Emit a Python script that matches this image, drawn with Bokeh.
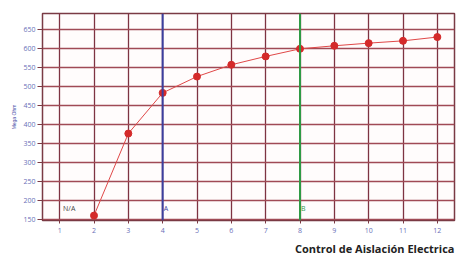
from bokeh.plotting import figure
from bokeh.models import Span, Label, FixedTicker, ColumnDataSource, Title
from bokeh.embed import file_html
from bokeh.resources import INLINE

# Data
x_vals = [2, 3, 4, 5, 6, 7, 8, 9, 10, 11, 12]
y_vals = [160, 376, 483, 526, 557, 579, 599, 607, 614, 620, 630]
x_ticks = [1, 2, 3, 4, 5, 6, 7, 8, 9, 10, 11, 12]
y_ticks = [150, 200, 250, 300, 350, 400, 450, 500, 550, 600, 650]
marker_x = [4, 8]
marker_names = ["A", "B"]
marker_colors = ["#3b3f9e", "#2f9a45"]
na_label = "N/A"
y_title = "Mega Ohm"
chart_title = "Control de Aislación Electrica"

p = figure(width=458, height=258, x_range=(0.5, 12.5), y_range=(147, 692),
           output_backend="svg", toolbar_location=None,
           min_border_left=42, min_border_top=13, min_border_right=4, min_border_bottom=0)

p.background_fill_color = "#fffcfc"
p.border_fill_color = "white"
p.outline_line_color = "#7a3a44"
p.outline_line_width = 1.5

p.xgrid.ticker = FixedTicker(ticks=x_ticks)
p.ygrid.ticker = FixedTicker(ticks=y_ticks)
p.xgrid.grid_line_color = "#7e3342"
p.xgrid.grid_line_width = 1.3
p.ygrid.grid_line_color = "#a04a55"
p.ygrid.grid_line_width = 1.3

for ax, ticks in ((p.xaxis, x_ticks), (p.yaxis, y_ticks)):
    ax.ticker = FixedTicker(ticks=ticks)
    ax.axis_line_color = "#7a3a44"
    ax.major_tick_line_color = "#7a3a44"
    ax.minor_tick_line_color = None
    ax.major_tick_in = 0
    ax.major_label_text_color = "#6a6fb8"
    ax.major_label_text_font = "Open Sans"
    ax.major_label_text_font_size = "7px"

p.xaxis.major_tick_out = 3
p.xaxis.major_label_standoff = 4
p.yaxis.major_tick_out = 5
p.yaxis.major_label_standoff = 2
p.yaxis.axis_label = y_title
p.yaxis.axis_label_text_font_size = "5px"
p.yaxis.axis_label_text_font_style = "normal"
p.yaxis.axis_label_text_color = "#4a4fa8"
p.yaxis.axis_label_standoff = 3

for mx, mname, mc in zip(marker_x, marker_names, marker_colors):
    p.add_layout(Span(location=mx, dimension="height", line_color=mc, line_width=2))
    p.add_layout(Label(x=mx, y=179, text=mname, x_offset=1, text_font_size="7px",
                       text_color=mc, text_baseline="middle", text_font="Open Sans"))

p.add_layout(Label(x=1.1, y=179, text=na_label, text_font_size="7px",
                   text_color="#444444", text_baseline="middle", text_font="Open Sans"))

src = ColumnDataSource(data=dict(x=x_vals, y=y_vals))
p.line("x", "y", source=src, line_color="#e04848", line_width=1)
p.scatter("x", "y", source=src, size=7, fill_color="#d42a2a", line_color="#d42a2a")

t = Title(text=chart_title, align="right", text_font="Open Sans", text_font_size="11px",
          text_font_style="bold", text_color="#222222", standoff=6)
p.add_layout(t, "below")

open("out.html", "w").write(file_html(p, INLINE))
